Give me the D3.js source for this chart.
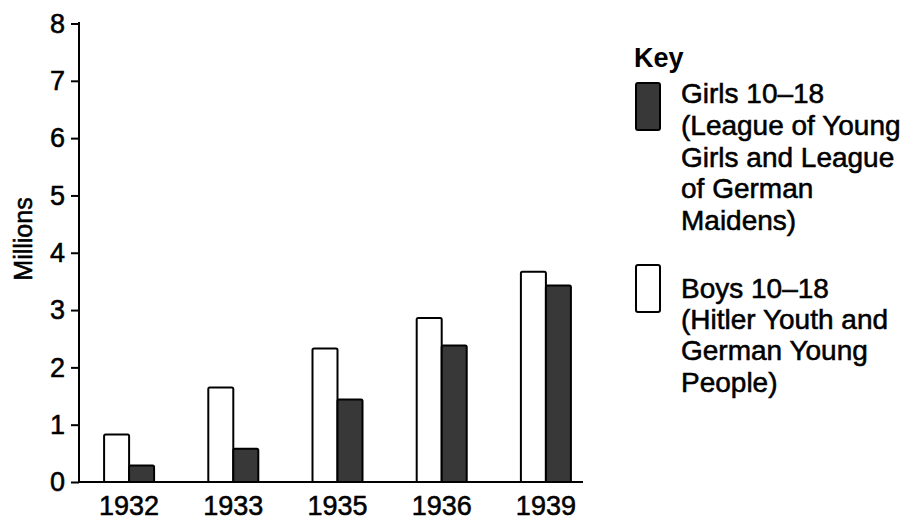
<!DOCTYPE html>
<html>
<head>
<meta charset="utf-8">
<script src="https://cdn.jsdelivr.net/npm/d3@7/dist/d3.min.js"></script>
<style>
  html, body { margin: 0; padding: 0; background: #fff; }
  svg { display: block; font-family: "Liberation Sans", Arial, sans-serif; }
  .heavy { stroke: #000; stroke-width: 0.55px; paint-order: stroke; }
</style>
</head>
<body>
<svg id="chart" width="905" height="520"></svg>
<script>
const years = ["1932", "1933", "1935", "1936", "1939"];
const boys = [0.83, 1.65, 2.33, 2.86, 3.67];
const girls = [0.29, 0.58, 1.44, 2.38, 3.43];
const yTicks = [0, 1, 2, 3, 4, 5, 6, 7, 8];
const yLabel = "Millions";
const keyTitle = "Key";
const girlsLabel = ["Girls 10\u201318", "(League of Young", "Girls and League", "of German", "Maidens)"];
const boysLabel = ["Boys 10\u201318", "(Hitler Youth and", "German Young", "People)"];

const series = [
  { key: "boys", values: boys, fill: "#ffffff" },
  { key: "girls", values: girls, fill: "#383838" }
];

const svg = d3.select("#chart");
const axisX = 79, baseY = 482, topY = 23.5, axisEnd = 583;

const y = d3.scaleLinear().domain([0, 8]).range([baseY, topY]);
const x = d3.scaleBand().domain(years).range([77, 598]).padding(0);
const sub = d3.scaleBand().domain(series.map(s => s.key)).range([-25, 25]);

// bars
const groups = svg.append("g").selectAll("g")
  .data(years)
  .join("g")
  .attr("transform", d => `translate(${x(d) + x.bandwidth() / 2},0)`);

groups.selectAll("rect")
  .data((d, i) => series.map(s => ({ key: s.key, fill: s.fill, v: s.values[i] })))
  .join("rect")
  .attr("x", d => sub(d.key))
  .attr("width", sub.bandwidth())
  .attr("y", d => y(d.v))
  .attr("height", d => y(0) - y(d.v))
  .attr("rx", 1.5)
  .attr("fill", d => d.fill)
  .attr("stroke", "#000")
  .attr("stroke-width", 2);

// y axis
const yAxis = d3.axisLeft(y).tickValues(yTicks).tickSize(8).tickPadding(6).tickSizeOuter(0);
const gy = svg.append("g").attr("transform", `translate(${axisX},0)`).call(yAxis);
gy.select(".domain").remove();
gy.selectAll(".tick line").attr("stroke", "#000").attr("stroke-width", 2);
gy.selectAll(".tick text").attr("font-size", 27).attr("fill", "#000").attr("class", "heavy")
  .attr("font-family", "'Liberation Sans', Arial, sans-serif");
svg.append("line").attr("x1", axisX).attr("x2", axisX).attr("y1", topY - 1.5).attr("y2", baseY + 1)
  .attr("stroke", "#000").attr("stroke-width", 2);

// x axis
const xAxis = d3.axisBottom(x).tickSize(0).tickPadding(14);
const gx = svg.append("g").attr("transform", `translate(0,${baseY})`).call(xAxis);
gx.select(".domain").remove();
gx.selectAll(".tick text").attr("font-size", 27).attr("fill", "#000").attr("class", "heavy")
  .attr("font-family", "'Liberation Sans', Arial, sans-serif");
svg.append("line").attr("x1", axisX - 1).attr("x2", axisEnd).attr("y1", baseY).attr("y2", baseY)
  .attr("stroke", "#000").attr("stroke-width", 2);

// y label
svg.append("text")
  .attr("class", "heavy")
  .attr("transform", `translate(32,239) rotate(-90)`)
  .attr("text-anchor", "middle")
  .attr("font-size", 25)
  .text(yLabel);

// legend
const legend = svg.append("g");
legend.append("text").attr("x", 634).attr("y", 67).attr("font-size", 27).attr("font-weight", "bold").text(keyTitle);

legend.append("rect").attr("x", 636).attr("y", 83).attr("width", 24).attr("height", 47).attr("rx", 2)
  .attr("fill", series[1].fill).attr("stroke", "#000").attr("stroke-width", 2);
legend.append("text").attr("font-size", 28).attr("class", "heavy")
  .selectAll("tspan").data(girlsLabel).join("tspan")
  .attr("x", 681).attr("y", (d, i) => 103 + i * 31.8).text(d => d);

legend.append("rect").attr("x", 636).attr("y", 265).attr("width", 24).attr("height", 47).attr("rx", 2)
  .attr("fill", series[0].fill).attr("stroke", "#000").attr("stroke-width", 2);
legend.append("text").attr("font-size", 28).attr("class", "heavy")
  .selectAll("tspan").data(boysLabel).join("tspan")
  .attr("x", 681).attr("y", (d, i) => 298 + i * 31.2).text(d => d);
</script>
</body>
</html>
